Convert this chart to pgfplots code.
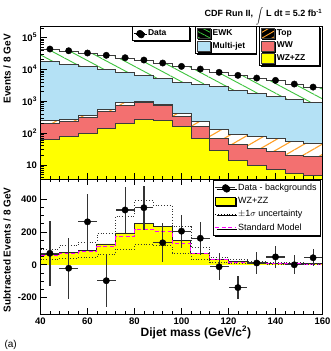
\documentclass[border=0pt]{standalone}
\usepackage{fontspec}
\setmainfont{Liberation Sans}
\usepackage{pgfplots}
\pgfplotsset{compat=1.18}
\usepackage{pgfplotstable}
\usetikzlibrary{patterns,patterns.meta,shadows}

\definecolor{mjBlue}{RGB}{180,225,245}
\definecolor{wwRed}{RGB}{243,112,112}
\definecolor{topOrange}{RGB}{255,160,40}
\definecolor{ewkGreen}{RGB}{60,195,60}
\definecolor{dibYellow}{RGB}{255,255,0}
\definecolor{smMagenta}{RGB}{255,0,255}
\definecolor{lineGray}{RGB}{60,60,60}

% cumulative stack at bin left edges (8 GeV bins); last row closes bin 15
\pgfplotstableread{
x    wz    ww    top   mj     tot
40   64    200   255   17300  42000
48   80    237   268   14350  37200
56   97    316   366   12080  31600
64   140   489   552   10000  26800
72   200   754   891   7820   22500
80   268   917   1007  6620   19000
88   242   738   793   5210   15300
96   161   340   413   3900   12000
104  68    165   237   3370   9900
112  29    69    130   2840   7800
120  14    45    90    2230   6300
128  9.8   33.5  76    1760   5150
136  7.3   26    68    1445   4380
144  5.4   20    53    1164   3350
152  4.7   18    49    891    2700
160  4.7   18    49    891    2700
}\stack

\pgfplotstableread{
x    y
44   43400
52   38400
60   32600
68   27600
76   23200
84   19600
92   15800
100  12400
108  10200
116  8050
124  6480
132  5320
140  4510
148  3450
156  2770
}\data

% lower panel: WZ+ZZ fit, SM expectation, +-1 sigma band edges
\pgfplotstableread{
x    wz    sm    up    dn
40   62    56    96    35
48   73    67    116   40
56   88    79    138   45
64   127   109   191   62
72   194   170   298   95
80   250   218   390   124
88   234   204   361   116
96   149   127   232   72
104  70    67    106   32
112  34    32    48    15
120  20    16    31    8
128  13    9     20    6
136  10    7     16    4
144  8     5     13    3
152  6     4     11    2
160  6     4     11    2
}\sub

\pgfplotstableread{
x    y     ey
44   70    197
52   -21   185
60   262   172
68   -97   160
76   334   140
84   348   133
92   134   118
100  205   100
108  162   100
116  -12   83
124  -139  70
132  11    68
140  48    65
148  0     58
156  43    52
}\subdata

\pgfplotsset{
  rootframe/.style={
    scale only axis, width=282pt,
    xmin=40, xmax=160,
    xtick={40,60,...,160}, minor x tick num=4,
    tick align=inside, axis on top,
    axis line style={line width=0.7pt},
    every tick/.style={black, line width=0.6pt},
    major tick length=6pt, minor tick length=3pt,
    ticklabel style={font=\bfseries\fontsize{9.5}{10}\selectfont},
    label style={font=\bfseries\fontsize{10}{12}\selectfont},
  },
  rootlegend/.style={
    scale only axis, width=282pt, height=153pt,
    at={(40.5pt,172pt)}, anchor=south west,
    hide axis, xmin=0, xmax=1, ymin=0, ymax=1,
    legend cell align=left,
    legend style={anchor=north west, draw=black, line width=0.6pt, fill=white,
      font=\bfseries\fontsize{8.5}{10}\selectfont, inner sep=1.5pt, row sep=1pt,
      drop shadow={shadow xshift=1.3pt, shadow yshift=-1.3pt, fill=black, opacity=1}},
  },
}

\begin{document}
\begin{tikzpicture}
\useasboundingbox (0,0) rectangle (330pt,351pt);

% ---- upper panel: stacked backgrounds and data
\begin{axis}[rootframe,
  at={(40.5pt,172pt)}, anchor=south west, height=153pt,
  ymode=log, ymin=3.6, ymax=2.3e5,
  ytick={10,100,1000,10000,100000},
  minor ytick={4,5,6,7,8,9,20,30,40,50,60,70,80,90,200,300,400,500,600,700,800,900,
    2000,3000,4000,5000,6000,7000,8000,9000,20000,30000,40000,50000,60000,70000,80000,90000,200000},
  yticklabels={10,10\textsuperscript{2},10\textsuperscript{3},10\textsuperscript{4},10\textsuperscript{5}},
  xticklabels={}, xtick pos=left, ytick pos=left,
  ylabel={Events / 8 GeV},
  ylabel style={at={(axis description cs:-0.106,0.97)}, anchor=base east},
]
  % EWK (top of stack)
  \addplot[const plot, fill=white, draw=none, forget plot] table[x=x,y=tot]{\stack} \closedcycle;
  \addplot[const plot, draw=lineGray, line width=0.7pt,
    pattern={Lines[angle=-28,distance=8.5pt,line width=0.9pt]}, pattern color=ewkGreen, forget plot]
    table[x=x,y=tot]{\stack} \closedcycle;
  % Multi-jet
  \addplot[const plot, fill=mjBlue, draw=lineGray, line width=0.7pt, forget plot] table[x=x,y=mj]{\stack} \closedcycle;
  % Top
  \addplot[const plot, fill=white, draw=none, forget plot] table[x=x,y=top]{\stack} \closedcycle;
  \addplot[const plot, draw=lineGray, line width=0.7pt,
    pattern={Lines[angle=30,distance=9pt,line width=1.1pt]}, pattern color=topOrange, forget plot]
    table[x=x,y=top]{\stack} \closedcycle;
  % WW
  \addplot[const plot, fill=wwRed, draw=lineGray, line width=0.7pt, forget plot] table[x=x,y=ww]{\stack} \closedcycle;
  % WZ+ZZ
  \addplot[const plot, fill=dibYellow, draw=lineGray, line width=0.7pt, forget plot] table[x=x,y=wz]{\stack} \closedcycle;
  % data
  \addplot[only marks, mark=*, mark size=3.2pt, black, forget plot] table[x=x,y=y]{\data};
\end{axis}

% ---- legends of the upper panel (three boxes)
\begin{axis}[rootlegend,
  legend style={at={(axis description cs:0.3245,1)}, /tikz/column 2/.style={text width=38pt}}]
  \addlegendimage{legend image code/.code={
    \draw[black, line width=1.2pt] (0pt,0pt) -- (11pt,0pt);
    \fill[black] (5.5pt,0pt) circle (3.2pt);}}
  \addlegendentry{Data}
\end{axis}
\begin{axis}[rootlegend,
  legend style={at={(axis description cs:0.548,1)}, /tikz/column 2/.style={text width=40pt}}]
  \addlegendimage{legend image code/.code={
    \fill[white] (0pt,-5pt) rectangle (13pt,5pt);
    \draw[draw=lineGray, line width=0.6pt, pattern={Lines[angle=-28,distance=5pt,line width=0.8pt]},
      pattern color=ewkGreen] (0pt,-5pt) rectangle (13pt,5pt);}}
  \addlegendentry{EWK}
  \addlegendimage{legend image code/.code={
    \draw[draw=lineGray, line width=0.6pt, fill=mjBlue] (0pt,-5pt) rectangle (13pt,5pt);}}
  \addlegendentry{Multi-jet}
\end{axis}
\begin{axis}[rootlegend,
  legend style={at={(axis description cs:0.775,1)}, /tikz/column 2/.style={text width=39pt}}]
  \addlegendimage{legend image code/.code={
    \fill[white] (0pt,-5pt) rectangle (13pt,5pt);
    \draw[draw=lineGray, line width=0.6pt, pattern={Lines[angle=30,distance=5pt,line width=0.9pt]},
      pattern color=topOrange] (0pt,-5pt) rectangle (13pt,5pt);}}
  \addlegendentry{Top}
  \addlegendimage{legend image code/.code={
    \draw[draw=lineGray, line width=0.6pt, fill=wwRed] (0pt,-5pt) rectangle (13pt,5pt);}}
  \addlegendentry{WW}
  \addlegendimage{legend image code/.code={
    \draw[draw=lineGray, line width=0.6pt, fill=dibYellow] (0pt,-5pt) rectangle (13pt,5pt);}}
  \addlegendentry{WZ+ZZ}
\end{axis}

% ---- lower panel: data minus backgrounds
\begin{axis}[rootframe,
  at={(40.5pt,37pt)}, anchor=south west, height=135pt,
  ymin=-300, ymax=523,
  ytick={-200,0,200,400}, minor y tick num=3,
  yticklabels={-200,0,200,400},
  xticklabels={40,60,80,100,120,140,160},
  xtick pos=both, xticklabel pos=left, ytick pos=left,
  xlabel={Dijet mass (GeV/c\textsuperscript{2})},
  xlabel style={at={(axis description cs:0.551,-0.163)}, anchor=base,
    font=\bfseries\fontsize{12}{14}\selectfont},
  ylabel={Subtracted Events / 8 GeV},
  ylabel style={at={(axis description cs:-0.106,0.963)}, anchor=base east},
  legend cell align=left,
  legend style={at={(axis description cs:0.612,0.993)}, anchor=north west,
    draw=black, line width=0.6pt, fill=white, font=\fontsize{9}{10}\selectfont,
    inner sep=1.5pt, row sep=1.5pt,
    drop shadow={shadow xshift=1.3pt, shadow yshift=-1.3pt, fill=black, opacity=1}},
]
  \addplot[const plot, fill=dibYellow, draw=none, forget plot] table[x=x,y=wz]{\sub} \closedcycle;
  \addplot[const plot, draw=black!85, line width=0.9pt, forget plot] table[x=x,y=wz]{\sub};
  \addplot[const plot, draw=smMagenta, line width=1pt, dash pattern=on 4pt off 2.5pt, forget plot] table[x=x,y=sm]{\sub};
  \addplot[const plot, draw=black!80, line width=0.8pt, dotted, forget plot] table[x=x,y=up]{\sub};
  \addplot[const plot, draw=black!80, line width=0.8pt, dotted, forget plot] table[x=x,y=dn]{\sub};
  \addplot[only marks, mark=*, mark size=3.2pt, black, forget plot,
    error bars/.cd, y dir=both, y explicit, x dir=both, x fixed=4,
    error bar style={black!80, line width=1.2pt}, error mark=none]
    table[x=x,y=y,y error=ey]{\subdata};

  \addlegendimage{legend image code/.code={
    \draw[black!80, line width=1.2pt] (0pt,0pt) -- (20pt,0pt);
    \fill[black] (10pt,0pt) circle (3.2pt);}}
  \addlegendentry{Data - backgrounds}
  \addlegendimage{legend image code/.code={
    \draw[fill=dibYellow, draw=black, line width=0.8pt] (0pt,-4pt) rectangle (20pt,4pt);}}
  \addlegendentry{WZ+ZZ}
  \addlegendimage{legend image code/.code={
    \draw[black, dotted, line width=0.8pt] (0pt,0pt) -- (20pt,0pt);}}
  \addlegendentry{$\pm$1$\sigma$ uncertainty}
  \addlegendimage{legend image code/.code={
    \draw[smMagenta, line width=1pt, dash pattern=on 4pt off 2.5pt] (0pt,0pt) -- (20pt,0pt);}}
  \addlegendentry{Standard Model}
\end{axis}

% run label and panel tag
\node[anchor=base east, inner sep=0pt, font=\bfseries\fontsize{9}{10}\selectfont] at (322.5pt,334pt)
  {CDF Run II, \raisebox{-1.5pt}{\scalebox{0.8}{$\displaystyle\int$}} L dt = 5.2 fb\textsuperscript{-1}};
\node[anchor=base west, font=\fontsize{10}{12}\selectfont] at (1pt,3.5pt) {(a)};
\end{tikzpicture}
\end{document}
